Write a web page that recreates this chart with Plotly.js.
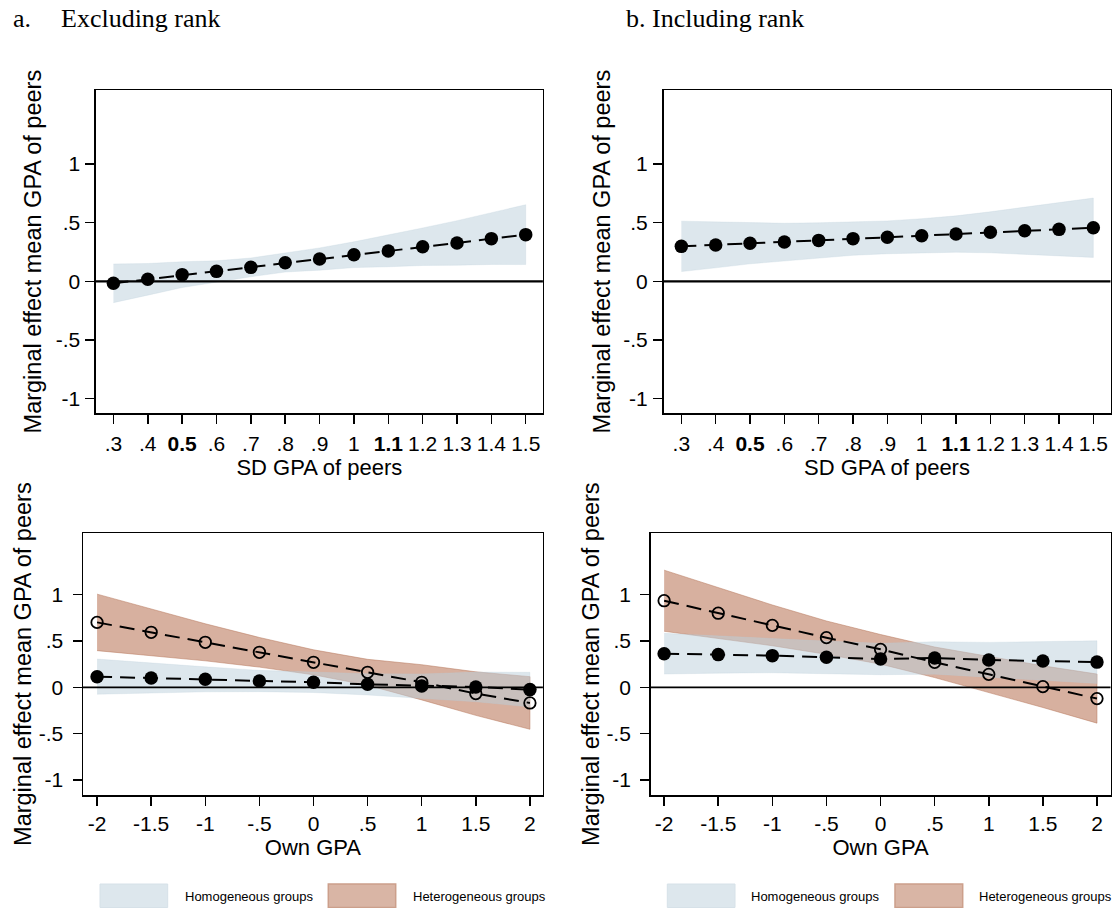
<!DOCTYPE html>
<html><head><meta charset="utf-8">
<script src="https://cdn.plot.ly/plotly-3.0.1.min.js"></script>
<style>html,body{margin:0;padding:0;background:#fff}#chart{width:1118px;height:908px}</style>
</head><body><div id="chart"></div>
<script>
// ---- Top panels: x = SD GPA of peers ----
const sdX = [0.3,0.4,0.5,0.6,0.7,0.8,0.9,1.0,1.1,1.2,1.3,1.4,1.5];
const sdTickText = ['.3','.4','<b>0.5</b>','.6','.7','.8','.9','1','<b>1.1</b>','1.2','1.3','1.4','1.5'];
// a. Excluding rank
const aEst   = [-0.017,0.017,0.057,0.085,0.119,0.159,0.19,0.227,0.259,0.295,0.327,0.364,0.398];
const aUpper = [0.148,0.152,0.167,0.175,0.199,0.239,0.285,0.337,0.394,0.455,0.517,0.584,0.653];
const aLower = [-0.182,-0.118,-0.053,-0.005,0.039,0.079,0.095,0.117,0.124,0.135,0.137,0.144,0.143];
// b. Including rank
const bEst   = [0.298,0.31,0.324,0.335,0.349,0.364,0.375,0.389,0.403,0.418,0.432,0.443,0.457];
const bUpper = [0.513,0.505,0.499,0.495,0.499,0.506,0.515,0.534,0.558,0.593,0.632,0.668,0.71];
const bLower = [0.083,0.115,0.149,0.175,0.199,0.222,0.235,0.244,0.248,0.243,0.232,0.218,0.204];

// ---- Bottom panels: x = Own GPA ----
const ownX = [-2,-1.5,-1,-0.5,0,0.5,1,1.5,2];
const ownTickText = ['-2','-1.5','-1','-.5','0','.5','1','1.5','2'];
// a. Excluding rank
const cHetEst   = [0.701,0.594,0.486,0.378,0.27,0.162,0.054,-0.068,-0.169];
const cHetUpper = [1.006,0.844,0.686,0.538,0.405,0.302,0.244,0.167,0.115];
const cHetLower = [0.396,0.344,0.286,0.218,0.135,0.022,-0.136,-0.303,-0.453];
const cHomEst   = [0.115,0.1,0.086,0.068,0.054,0.032,0.014,0.004,-0.025];
const cHomUpper = [0.305,0.26,0.221,0.183,0.164,0.147,0.144,0.164,0.162];
const cHomLower = [-0.075,-0.06,-0.049,-0.047,-0.056,-0.083,-0.116,-0.156,-0.212];
// b. Including rank
const dHetEst   = [0.935,0.80,0.669,0.536,0.41,0.27,0.14,0.007,-0.122];
const dHetUpper = [1.265,1.075,0.889,0.716,0.57,0.435,0.335,0.232,0.143];
const dHetLower = [0.605,0.525,0.449,0.356,0.25,0.105,-0.055,-0.218,-0.387];
const dHomEst   = [0.363,0.353,0.342,0.324,0.306,0.317,0.295,0.284,0.272];
const dHomUpper = [0.583,0.553,0.527,0.499,0.476,0.492,0.485,0.494,0.502];
const dHomLower = [0.143,0.153,0.157,0.149,0.136,0.142,0.105,0.074,0.042];

const yTickVals = [-1,-0.5,0,0.5,1];
const yTickText = ['-1','-.5','0','.5','1'];
const panelTitles = ['a.', 'Excluding rank', 'b. Including rank'];
const legendLabels = ['Homogeneous groups', 'Heterogeneous groups'];
const yTitle = 'Marginal effect mean GPA of peers';
const xTitleTop = 'SD GPA of peers';
const xTitleBottom = 'Own GPA';

const W = 1118, H = 908;
const px = v => v / W, py = v => 1 - v / H;

const BLUE = 'rgba(187,207,219,0.5)';
const BLUE_LINE = 'rgba(187,207,219,0.25)';
const BROWN = 'rgba(190,128,100,0.62)';
const BROWN_LINE = 'rgba(184,120,92,0.5)';
const SANS = 'Liberation Sans, Arial, sans-serif';
const SERIF = 'Liberation Serif, Times New Roman, serif';

function band(xs, up, lo, color, lcolor, xa, ya) {
  return {x: xs.concat(xs.slice().reverse()), y: up.concat(lo.slice().reverse()),
    type: 'scatter', mode: 'lines', fill: 'toself', fillcolor: color,
    line: {color: lcolor, width: 1}, hoverinfo: 'skip', showlegend: false, xaxis: xa, yaxis: ya};
}
function est(xs, ys, open, xa, ya) {
  return {x: xs, y: ys, type: 'scatter', mode: 'lines+markers',
    line: {color: '#000', width: 2, dash: '15px,8px'},
    marker: open ? {symbol: 'circle-open', size: 11.5, color: '#000', line: {width: 1.8, color: '#000'}}
                 : {symbol: 'circle', size: 13.5, color: '#000'},
    showlegend: false, xaxis: xa, yaxis: ya};
}

const data = [
  band(sdX, aUpper, aLower, BLUE, BLUE_LINE, 'x', 'y'),
  est(sdX, aEst, false, 'x', 'y'),
  band(sdX, bUpper, bLower, BLUE, BLUE_LINE, 'x2', 'y2'),
  est(sdX, bEst, false, 'x2', 'y2'),
  band(ownX, cHetUpper, cHetLower, BROWN, BROWN_LINE, 'x3', 'y3'),
  band(ownX, cHomUpper, cHomLower, BLUE, BLUE_LINE, 'x3', 'y3'),
  est(ownX, cHomEst, false, 'x3', 'y3'),
  est(ownX, cHetEst, true, 'x3', 'y3'),
  band(ownX, dHetUpper, dHetLower, BROWN, BROWN_LINE, 'x4', 'y4'),
  band(ownX, dHomUpper, dHomLower, BLUE, BLUE_LINE, 'x4', 'y4'),
  est(ownX, dHomEst, false, 'x4', 'y4'),
  est(ownX, dHetEst, true, 'x4', 'y4')
];

function xax(domain, range, vals, text, title, anchor, standoff) {
  return {domain: domain, range: range, anchor: anchor, tickmode: 'array', tickvals: vals, ticktext: text,
    ticks: 'outside', ticklen: 9, tickwidth: 1.5, tickcolor: '#000',
    showline: true, linecolor: '#000', linewidth: 1.5, mirror: true,
    showgrid: false, zeroline: false, ticklabelstandoff: standoff,
    tickfont: {family: SANS, size: 21, color: '#000'},
    title: {text: title, font: {family: SANS, size: 22, color: '#000'}, standoff: 0}, fixedrange: true};
}
function yax(domain, range, anchor, lstand, tstand) {
  return {domain: domain, range: range, anchor: anchor, tickmode: 'array', tickvals: yTickVals, ticktext: yTickText,
    ticks: 'outside', ticklen: 9, tickwidth: 1.5, tickcolor: '#000',
    showline: true, linecolor: '#000', linewidth: 1.5, mirror: true,
    showgrid: false, zeroline: false, ticklabelstandoff: lstand,
    tickfont: {family: SANS, size: 21, color: '#000'},
    title: {text: yTitle, font: {family: SANS, size: 23.5, color: '#000'}, standoff: tstand}, fixedrange: true};
}

const topY = [py(413.3), py(90)];
const botY = [py(795), py(533.3)];

const shapes = [];
['x','x2','x3','x4'].forEach((xa, i) => {
  shapes.push({type: 'line', xref: xa + ' domain', x0: 0, x1: 1, yref: 'y' + (i ? i + 1 : ''), y0: 0, y1: 0,
    line: {color: '#000', width: i < 2 ? 2.2 : 1.8}, layer: 'above'});
});

const annotations = [
  {text: panelTitles[0], x: px(11), y: py(19), xref: 'paper', yref: 'paper', xanchor: 'left', yanchor: 'middle', showarrow: false, font: {family: SERIF, size: 26, color: '#000'}},
  {text: panelTitles[1], x: px(58.5), y: py(19), xref: 'paper', yref: 'paper', xanchor: 'left', yanchor: 'middle', showarrow: false, font: {family: SERIF, size: 26, color: '#000'}},
  {text: panelTitles[2], x: px(624), y: py(19), xref: 'paper', yref: 'paper', xanchor: 'left', yanchor: 'middle', showarrow: false, font: {family: SERIF, size: 26, color: '#000'}}
];

// legends (one under each bottom panel)
const legendRows = [
  {boxes: [[100, 167.7], [328.3, 395.7]], texts: [182.7, 410.7]},
  {boxes: [[667.3, 735], [895, 962.7]], texts: [749.3, 977.3]}
];
legendRows.forEach(row => {
  shapes.push({type: 'rect', xref: 'paper', yref: 'paper', x0: px(row.boxes[0][0]), x1: px(row.boxes[0][1]), y0: py(907.5), y1: py(884),
    fillcolor: '#dde7ed', line: {color: '#d6e1e8', width: 1}});
  shapes.push({type: 'rect', xref: 'paper', yref: 'paper', x0: px(row.boxes[1][0]), x1: px(row.boxes[1][1]), y0: py(907.5), y1: py(884),
    fillcolor: '#d9b5a5', line: {color: '#cc9f8b', width: 1.5}});
  row.texts.forEach((tx, k) => annotations.push({text: legendLabels[k], x: px(tx), y: py(896), xref: 'paper', yref: 'paper',
    xanchor: 'left', yanchor: 'middle', showarrow: false, font: {family: SANS, size: 13, color: '#000'}}));
});

const layout = {
  width: W, height: H, margin: {l: 0, r: 0, t: 0, b: 0},
  paper_bgcolor: '#fff', plot_bgcolor: '#fff', showlegend: false,
  xaxis:  xax([px(95.9), px(542.9)], [0.249, 1.55], sdX, sdTickText, xTitleTop, 'y', 2),
  yaxis:  yax(topY, [-1.125, 1.631], 'x', 1, 7),
  xaxis2: xax([px(663.5), px(1110.5)], [0.248, 1.55], sdX, sdTickText, xTitleTop, 'y2', 2),
  yaxis2: yax(topY, [-1.125, 1.631], 'x2', 1, 6),
  xaxis3: xax([px(83.0), px(542.9)], [-2.13, 2.12], ownX, ownTickText, xTitleBottom, 'y3', 0),
  yaxis3: yax(botY, [-1.163, 1.663], 'x3', 5, 0),
  xaxis4: xax([px(650.6), px(1110.5)], [-2.125, 2.125], ownX, ownTickText, xTitleBottom, 'y4', 0),
  yaxis4: yax(botY, [-1.163, 1.663], 'x4', 5, 0),
  shapes: shapes, annotations: annotations
};

Plotly.newPlot('chart', data, layout, {displayModeBar: false, staticPlot: true});
</script></body></html>
